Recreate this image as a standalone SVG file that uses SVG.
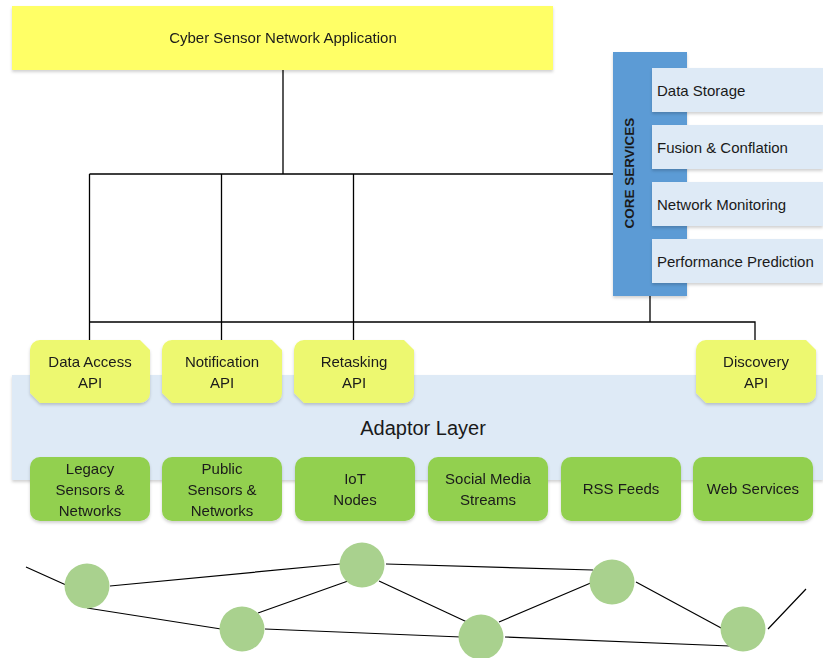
<svg xmlns="http://www.w3.org/2000/svg" width="823" height="658" viewBox="0 0 823 658">
<defs>
<filter id="sh" x="-10%" y="-10%" width="120%" height="130%">
<feDropShadow dx="0" dy="2" stdDeviation="1.5" flood-color="#000" flood-opacity="0.18"/>
</filter>
<style>
text{font-family:"Liberation Sans",Arial,sans-serif;fill:#1a1a1a;}
.t15{font-size:15px;}
.mid{text-anchor:middle;}
.app{fill:#FFFF66;}
.core{fill:#5B9BD5;}
.sub{fill:#DEEAF6;}
.api{fill:#EDF870;}
.src{fill:#92D050;}
.layer{fill:#DEEAF6;}
.conn{stroke:#000;stroke-width:1.3;fill:none;}
.net{stroke:#000;stroke-width:1.2;fill:none;}
.node{fill:#A9D18E;}
</style>
</defs>
<rect width="823" height="658" fill="#fff"/>

<g id="connectors">
<path class="conn" d="M283 70V174M89.5 174H614M89.5 174V340M221.5 174V340M353.5 174V340M89.5 322H755V340M650 296V322"/>
</g>

<g id="app" filter="url(#sh)">
<rect class="app" x="12" y="6" width="541" height="64"/>
<text class="t15 mid" x="283" y="43">Cyber Sensor Network Application</text>
</g>

<g id="core-services">
<rect class="core" x="613" y="52" width="74" height="244" filter="url(#sh)"/>
<text x="629" y="173" transform="rotate(-90 629 173)" class="mid" style="font-size:13.5px;font-weight:bold;" dy="5">CORE SERVICES</text>
</g>
<g id="data-storage"><rect class="sub" x="652" y="68" width="171" height="44" filter="url(#sh)"/><text class="t15" x="657" y="96">Data Storage</text></g>
<g id="fusion"><rect class="sub" x="652" y="125" width="171" height="44" filter="url(#sh)"/><text class="t15" x="657" y="153">Fusion &amp; Conflation</text></g>
<g id="network-monitoring"><rect class="sub" x="652" y="182" width="171" height="44" filter="url(#sh)"/><text class="t15" x="657" y="210">Network Monitoring</text></g>
<g id="performance-prediction"><rect class="sub" x="652" y="239" width="171" height="44" filter="url(#sh)"/><text class="t15" x="657" y="267">Performance Prediction</text></g>

<g id="adaptor-layer">
<rect class="layer" x="12" y="375" width="811" height="105" filter="url(#sh)"/>
<text x="423" y="435" class="mid" style="font-size:20px;">Adaptor Layer</text>
</g>

<g id="data-access-api" filter="url(#sh)">
<path class="api" d="M40 340H140L150 350V393A10 10 0 0 1 140 403H40L30 393V350A10 10 0 0 1 40 340Z"/>
<text class="t15 mid" x="90" y="367">Data Access</text><text class="t15 mid" x="90" y="388">API</text>
</g>
<g id="notification-api" filter="url(#sh)">
<path class="api" d="M172 340H272L282 350V393A10 10 0 0 1 272 403H172L162 393V350A10 10 0 0 1 172 340Z"/>
<text class="t15 mid" x="222" y="367">Notification</text><text class="t15 mid" x="222" y="388">API</text>
</g>
<g id="retasking-api" filter="url(#sh)">
<path class="api" d="M304 340H404L414 350V393A10 10 0 0 1 404 403H304L294 393V350A10 10 0 0 1 304 340Z"/>
<text class="t15 mid" x="354" y="367">Retasking</text><text class="t15 mid" x="354" y="388">API</text>
</g>
<g id="discovery-api" filter="url(#sh)">
<path class="api" d="M706 340H806L816 350V393A10 10 0 0 1 806 403H706L696 393V350A10 10 0 0 1 706 340Z"/>
<text class="t15 mid" x="756" y="367">Discovery</text><text class="t15 mid" x="756" y="388">API</text>
</g>

<g id="legacy" filter="url(#sh)"><rect class="src" x="30" y="457" width="120" height="64" rx="10"/>
<text class="t15 mid" x="90" y="474">Legacy</text><text class="t15 mid" x="90" y="495">Sensors &amp;</text><text class="t15 mid" x="90" y="516">Networks</text></g>
<g id="public" filter="url(#sh)"><rect class="src" x="162" y="457" width="120" height="64" rx="10"/>
<text class="t15 mid" x="222" y="474">Public</text><text class="t15 mid" x="222" y="495">Sensors &amp;</text><text class="t15 mid" x="222" y="516">Networks</text></g>
<g id="iot" filter="url(#sh)"><rect class="src" x="295" y="457" width="120" height="64" rx="10"/>
<text class="t15 mid" x="355" y="484">IoT</text><text class="t15 mid" x="355" y="505">Nodes</text></g>
<g id="social" filter="url(#sh)"><rect class="src" x="428" y="457" width="120" height="64" rx="10"/>
<text class="t15 mid" x="488" y="484">Social Media</text><text class="t15 mid" x="488" y="505">Streams</text></g>
<g id="rss" filter="url(#sh)"><rect class="src" x="561" y="457" width="120" height="64" rx="10"/>
<text class="t15 mid" x="621" y="494">RSS Feeds</text></g>
<g id="web" filter="url(#sh)"><rect class="src" x="693" y="457" width="120" height="64" rx="10"/>
<text class="t15 mid" x="753" y="494">Web Services</text></g>

<g id="network-links">
<path class="net" d="M26 567L66 585M110 586L340 564M87 608L221 629M258 613L348 581M379 581L467 622M265 629L461 637M386 564L593 570M499 622L593 582M636 582L723 629M505 637L730 646M768 629L806 589"/>
</g>
<g id="network-nodes">
<circle class="node" cx="87" cy="586" r="22.5"/>
<circle class="node" cx="242" cy="629" r="22.5"/>
<circle class="node" cx="362" cy="565" r="22.5"/>
<circle class="node" cx="481" cy="637" r="22.5"/>
<circle class="node" cx="612" cy="582" r="22.5"/>
<circle class="node" cx="743" cy="629" r="22.5"/>
</g>
</svg>
